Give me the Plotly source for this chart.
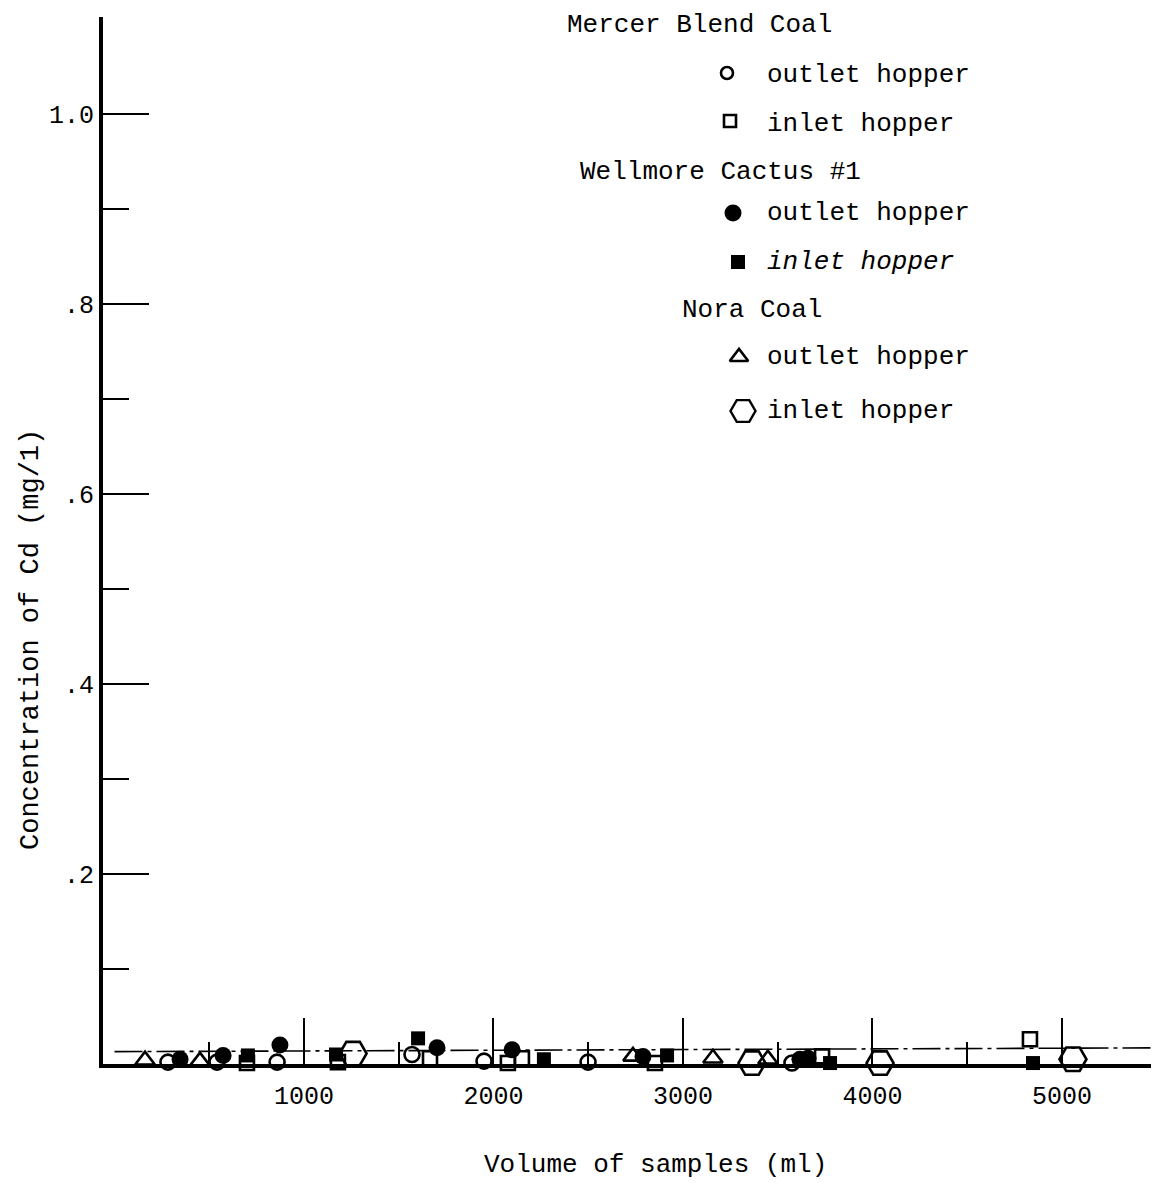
import plotly.graph_objects as go

# ---------------- data ----------------
mercer_outlet_x = [282, 541, 858, 1570, 1950, 2499, 3575]
mercer_outlet_y = [0.002, 0.002, 0.002, 0.010, 0.003, 0.002, 0.001]
mercer_inlet_x = [699, 1179, 1665, 2076, 2150, 2852, 3734, 4831]
mercer_inlet_y = [0.001, 0.002, 0.006, 0.001, 0.006, 0.001, 0.008, 0.026]
cactus_outlet_x = [346, 573, 873, 1702, 2098, 2789, 3617, 3660]
cactus_outlet_y = [0.005, 0.009, 0.020, 0.017, 0.015, 0.008, 0.005, 0.006]
cactus_inlet_x = [704, 1169, 1602, 2266, 2916, 3776, 4847]
cactus_inlet_y = [0.009, 0.010, 0.027, 0.005, 0.009, 0.001, 0.001]
nora_outlet_x = [161, 451, 2736, 3158, 3448]
nora_outlet_y = [0.004, 0.003, 0.008, 0.006, 0.005]
nora_inlet_x = [1259, 3364, 4040, 5058]
nora_inlet_y = [0.011, 0.001, 0.001, 0.005]
trend_x = [0, 5500]
trend_y = [0.013, 0.017]

x_tick_vals = [1000, 2000, 3000, 4000, 5000]
x_tick_text = ["1000", "2000", "3000", "4000", "5000"]
x_minor_vals = [500, 1500, 2500, 3500, 4500]
y_tick_vals = [0.2, 0.4, 0.6, 0.8, 1.0]
y_tick_text = [".2", ".4", ".6", ".8", "1.0"]
y_minor_vals = [0.1, 0.3, 0.5, 0.7, 0.9]

groups = ["Mercer Blend Coal", "Wellmore Cactus #1", "Nora Coal"]
items = ["outlet hopper", "inlet hopper"]

# ---------------- layout constants ----------------
PAGE_OFF = 8                      # default <body> margin of the written page
W, H = 1159 - PAGE_OFF, 1183 - PAGE_OFF
SL, SR, ST, SB = 103, 1159, 17, 1064   # plot area in screen pixels
L, R, T, B = SL - PAGE_OFF, 0, ST - PAGE_OFF, H - (SB - PAGE_OFF)
FONT = "Liberation Mono, Courier New, monospace"
INK = "black"

x_range = [-60.7, 5512]
y_range = [0, 1.102]


def px(sx):
    return (sx - SL) / (SR - SL)


def py(sy):
    return (SB - sy) / (SB - ST)


fig = go.Figure()

series = [
    (mercer_outlet_x, mercer_outlet_y, "circle-open", 15, 2.6),
    (mercer_inlet_x, mercer_inlet_y, "square-open", 14, 2.6),
    (cactus_outlet_x, cactus_outlet_y, "circle", 17, 0),
    (cactus_inlet_x, cactus_inlet_y, "square", 14, 0),
    (nora_outlet_x, nora_outlet_y, "triangle-up-open", 17, 2.6),
    (nora_inlet_x, nora_inlet_y, "hexagon2-open", 27, 2.6),
]

# trend line
fig.add_trace(go.Scatter(x=trend_x, y=trend_y, mode="lines",
                         line=dict(color=INK, width=1.6, dash="28px,5px,4px,5px"),
                         showlegend=False, hoverinfo="skip", cliponaxis=False))

for sx, sy, sym, size, lw in series:
    fig.add_trace(go.Scatter(
        x=sx, y=sy, mode="markers", showlegend=False, cliponaxis=False,
        marker=dict(symbol=sym, size=size, color=INK,
                    line=dict(color=INK, width=lw)),
    ))

# ---------------- hand-made legend (screen-pixel overlay axes) ----------------
leg_sym_x = [727, 730, 733, 738, 739, 743]
leg_sym_y = [73, 121, 213, 262, 357, 411]
leg_sizes = [12, 12, 17, 14, 16, 25]
leg_lw = [2.6, 2.6, 0, 0, 2.6, 2.4]
for i, (sx, sy, sym, size, lw) in enumerate(series):
    fig.add_trace(go.Scatter(
        x=[leg_sym_x[i]], y=[leg_sym_y[i]], xaxis="x2", yaxis="y2", mode="markers",
        showlegend=False, hoverinfo="skip", cliponaxis=False,
        marker=dict(symbol=sym, size=leg_sizes[i], color=INK,
                    line=dict(color=INK, width=leg_lw[i])),
    ))

annotations = []


def ann(text, sx, sy, xanchor="left", size=26, italic=False, angle=0):
    t = f"<i>{text}</i>" if italic else text
    annotations.append(dict(
        text=t, x=px(sx), y=py(sy), xref="paper", yref="paper",
        xanchor=xanchor, yanchor="middle", showarrow=False, textangle=angle,
        font=dict(family=FONT, size=size, color=INK)))


group_pos = [(565, 25), (578, 172), (680, 310)]
for g, (gx, gy) in zip(groups, group_pos):
    ann(g, gx, gy)
item_y = [75, 124, 213, 262, 357, 411]
for i, iy in enumerate(item_y):
    ann(items[i % 2], 765, iy, italic=(i == 3))

# axis titles
ann("Volume of samples (ml)", 655, 1165, xanchor="center")
ann("Concentration of Cd (mg/1)", 31, 640, xanchor="center", angle=-90, size=27)

fig.update_layout(
    width=W, height=H,
    margin=dict(l=L, r=R, t=T, b=B, pad=0),
    paper_bgcolor="white", plot_bgcolor="white",
    showlegend=False,
    font=dict(family=FONT, color=INK),
    annotations=annotations,
    xaxis=dict(
        range=x_range, showgrid=False, zeroline=False,
        showline=True, linecolor=INK, linewidth=4,
        tickvals=x_tick_vals, ticktext=x_tick_text,
        ticks="inside", ticklen=46, tickwidth=1.5, tickcolor=INK,
        tickfont=dict(family=FONT, size=25, color=INK),
        ticklabelstandoff=6,
        minor=dict(tickvals=x_minor_vals, ticks="inside", ticklen=22,
                   tickwidth=1.5, tickcolor=INK, showgrid=False),
    ),
    yaxis=dict(
        range=y_range, showgrid=False, zeroline=False,
        showline=True, linecolor=INK, linewidth=4,
        tickvals=y_tick_vals, ticktext=y_tick_text,
        ticks="inside", ticklen=46, tickwidth=1.5, tickcolor=INK,
        tickfont=dict(family=FONT, size=25, color=INK),
        ticklabelstandoff=0,
        minor=dict(tickvals=y_minor_vals, ticks="inside", ticklen=26,
                   tickwidth=1.5, tickcolor=INK, showgrid=False),
    ),
    xaxis2=dict(overlaying="x", range=[SL, SR], visible=False, fixedrange=True),
    yaxis2=dict(overlaying="y", range=[SB, ST], visible=False, fixedrange=True),
)

fig.write_html("out.html")
